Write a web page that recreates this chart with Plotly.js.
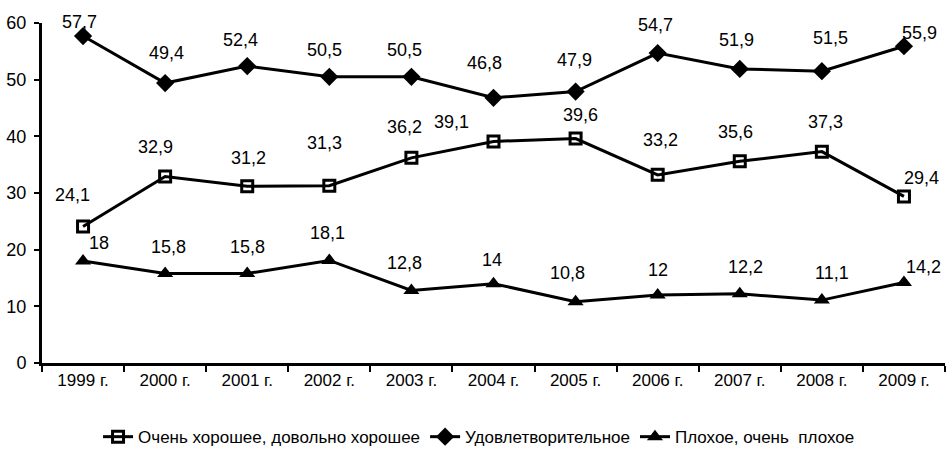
<!DOCTYPE html>
<html>
<head>
<meta charset="utf-8">
<script src="https://cdn.plot.ly/plotly-3.0.1.min.js"></script>
<style>html,body{margin:0;padding:0;background:#fff;}#chart{width:947px;height:462px;}</style>
</head>
<body>
<div id="chart"></div>
<script>
const categories = ["1999 г.","2000 г.","2001 г.","2002 г.","2003 г.","2004 г.","2005 г.","2006 г.","2007 г.","2008 г.","2009 г."];
const seriesNames = ["Очень хорошее, довольно хорошее","Удовлетворительное","Плохое, очень  плохое"];
const good = [24.1,32.9,31.2,31.3,36.2,39.1,39.6,33.2,35.6,37.3,29.4];
const satisfactory = [57.7,49.4,52.4,50.5,50.5,46.8,47.9,54.7,51.9,51.5,55.9];
const bad = [18,15.8,15.8,18.1,12.8,14,10.8,12,12.2,11.1,14.2];

// label offsets in pixels [dx, dy up]
const goodOff = [[-11,31],[-10,30],[1,28],[-5,43],[-7,31],[-42,19],[5,24],[3,35],[-4,29],[4,30],[18,18]];
const satOff = [[-4,14],[1,30],[-7,26],[-5,27],[-7,27],[-9,35],[-1,32],[-2,28],[-3,29],[9,33],[16,13]];
const badOff = [[16,18],[3,26],[0,26],[-2,27],[-7,27],[-2,24],[-8,29],[0,25],[6,27],[10,27],[20,16]];

const FONT = "'Liberation Sans Narrow','Arial Narrow','Liberation Sans',Arial,sans-serif";
const fmt = v => String(v).replace('.', ',');

const lineStyle = {color:'#000', width:3};
const traces = [
  {x:categories, y:good, name:seriesNames[0], mode:'lines+markers', type:'scatter',
   line:lineStyle, marker:{symbol:'square-open', size:11, color:'#000', line:{width:3,color:'#000'}}},
  {x:categories, y:satisfactory, name:seriesNames[1], mode:'lines+markers', type:'scatter',
   line:lineStyle, marker:{symbol:'diamond', size:14, color:'#000'}},
  {x:categories, y:bad, name:seriesNames[2], mode:'lines+markers', type:'scatter',
   line:lineStyle, marker:{symbol:'triangle-up', size:14, color:'#000'}}
];

const annotations = [];
[[good,goodOff],[satisfactory,satOff],[bad,badOff]].forEach(([vals,offs])=>{
  vals.forEach((v,i)=>{
    annotations.push({x:categories[i], y:v, text:fmt(v), showarrow:false,
      xshift:offs[i][0], yshift:offs[i][1], font:{family:FONT, size:18, color:'#000'}});
  });
});

const layout = {
  width:947, height:462,
  margin:{l:42, r:2, t:23, b:99},
  paper_bgcolor:'#fff', plot_bgcolor:'#fff',
  font:{family:FONT, size:18, color:'#000'},
  showlegend:true,
  legend:{orientation:'h', x:0.484, xanchor:'center', y:-0.218, yanchor:'middle',
    font:{family:FONT, size:17, color:'#000'}, itemwidth:30, tracegroupgap:0},
  xaxis:{type:'category', range:[-0.5,10.5], showline:true, linecolor:'#000', linewidth:3,
    ticks:'outside', tickson:'boundaries', ticklen:6, tickwidth:2, tickcolor:'#000',
    showgrid:false, zeroline:false, tickfont:{family:FONT, size:17}},
  yaxis:{range:[0,60], dtick:10, showline:true, linecolor:'#000', linewidth:3,
    ticks:'outside', ticklen:5, tickwidth:2, tickcolor:'#000', showgrid:false, zeroline:false,
    ticklabelstandoff:4, tickfont:{family:FONT, size:18}},
  annotations:annotations
};

Plotly.newPlot('chart', traces, layout, {displayModeBar:false, staticPlot:true});
</script>
</body>
</html>
